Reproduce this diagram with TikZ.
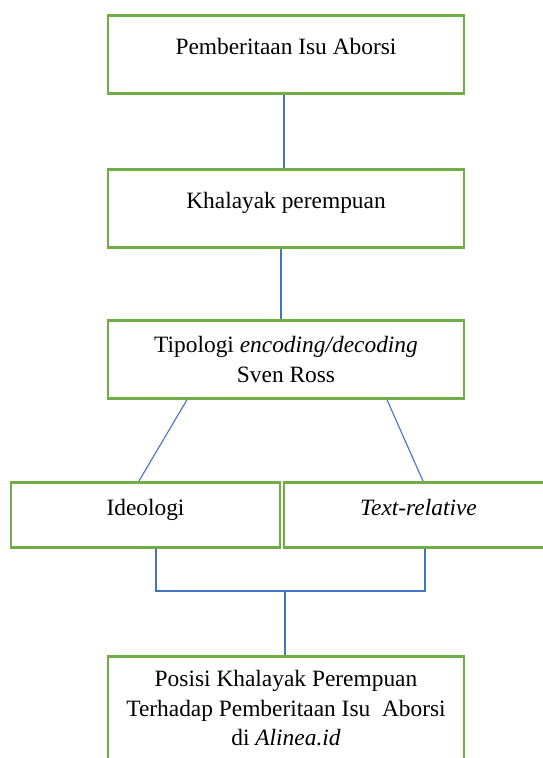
\documentclass[tikz,border=0pt]{standalone}
\usepackage{fontspec}
\setmainfont{Liberation Serif}
\usepackage{xcolor}
\usetikzlibrary{positioning,calc}
\definecolor{boxgreen}{HTML}{70AD47}
\definecolor{linkblue}{HTML}{4472C4}

\begin{document}
\begin{tikzpicture}[x=1pt, y=-1pt,
    box/.style={draw=boxgreen, line width=2.7pt, rectangle, inner sep=0pt,
                minimum width=356pt, anchor=north, align=center,
                font=\fontsize{23.4}{29.5}\selectfont},
    onebox/.style={box, text height=39pt, text depth=39pt},
    halfbox/.style={box, minimum width=269pt, text height=33pt, text depth=32pt},
    link/.style={draw=linkblue, line width=1.1pt}]
  \useasboundingbox (0,0) rectangle (542,758);
  \node[onebox] (pemb) at (286,14) {Pemberitaan Isu Aborsi};
  \node[onebox] (khal) at (286,168) {Khalayak perempuan};
  \node[box, minimum height=78pt] (tipo) at (286,319)
       {Tipologi \textit{encoding/decoding}\\Sven Ross};
  \node[halfbox] (ideo) at (145.5,481) {Ideologi};
  \node[halfbox] (trel) at (418.5,481) {\textit{Text-relative}};
  \node[box, minimum height=104pt] (posi) at (286,655)
       {Posisi Khalayak Perempuan\\Terhadap Pemberitaan Isu\ \ Aborsi\\di \textit{Alinea.id}};
  \coordinate (join) at (285,591);
  \draw[link] ([xshift=-2pt]pemb.south) -- ([xshift=-2pt]pemb.south |- khal.north);
  \draw[link] ([xshift=-5pt]khal.south) -- ([xshift=-5pt]khal.south |- tipo.north);
  \draw[link] ([xshift=-99pt]tipo.south) -- ([xshift=-6.5pt]ideo.north);
  \draw[link] ([xshift=101pt]tipo.south) -- ([xshift=4.5pt]trel.north);
  \draw[link] ([xshift=10.5pt]ideo.south) |- (join);
  \draw[link] ([xshift=6.5pt]trel.south) |- (join);
  \draw[link] (join) -- (join |- posi.north);
\end{tikzpicture}
\end{document}
